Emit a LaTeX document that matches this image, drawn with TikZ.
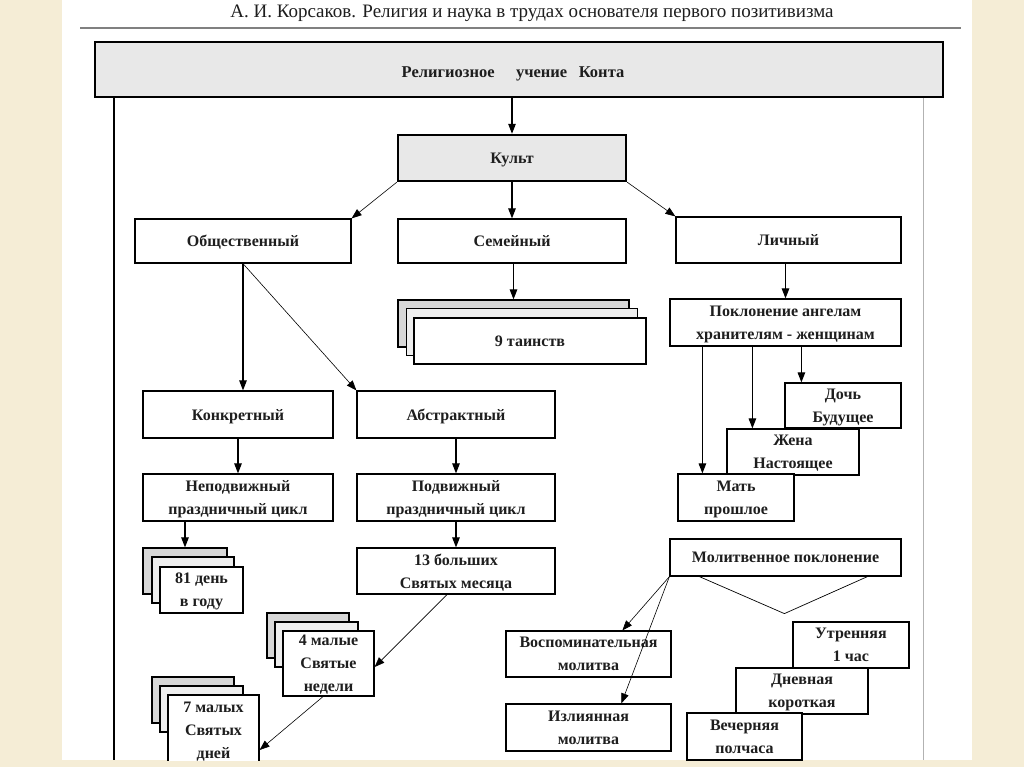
\documentclass[tikz,border=0pt]{standalone}
\usepackage{fontspec}
\setmainfont{Liberation Serif}
\usetikzlibrary{calc,arrows.meta}
\definecolor{parch}{RGB}{245,237,214}
\definecolor{boxgray}{RGB}{232,232,232}
\definecolor{backgray}{RGB}{215,215,215}
\definecolor{midgray}{RGB}{238,238,238}
\definecolor{txt}{RGB}{30,30,30}
\begin{document}
\begin{tikzpicture}[x=1pt,y=-1pt,
  box/.style={draw=black, line width=1.2pt, fill=white, align=center, inner sep=0pt,
    font=\fontsize{16}{23}\selectfont\bfseries, text=txt, text depth=0pt},
  backbox/.style={draw=black, line width=1.2pt, fill=backgray, inner sep=0pt},
  midbox/.style={draw=black, line width=1.2pt, fill=midgray, inner sep=0pt},
  arr/.style={-{Triangle[length=10pt,width=7.5pt]}, line width=1.1pt},
  tarr/.style={-{Triangle[length=10pt,width=7.5pt]}, line width=0.6pt}]
\useasboundingbox (0,0) rectangle (1024,767);
\fill[parch] (0,0) rectangle (1024,767);
\fill[white] (62,0) rectangle (972,760);
% title
\node[text=txt, inner sep=0pt] (title) at (532,13) {\fontsize{19}{20}\selectfont А. И. Корсаков. Религия и наука в трудах основателя первого позитивизма};
\draw[gray, line width=1.5pt] (80,28) -- (961,28);
% frame lines
\coordinate (lbot) at (114,760);
\coordinate (rbot) at (923,760);
% top box
\node[box, fill=boxgray, line width=1.8pt, minimum width=848pt, minimum height=55pt] (top) at (519,69.5) {};
\node[font=\fontsize{16.5}{22}\selectfont\bfseries, text=txt, inner sep=0pt, text depth=0pt] (toptext) at (513,72) {Религиозное\hspace{1.3em}учение\hspace{0.7em}Конта};
\draw[line width=1.3pt] (top.south -| lbot) -- (lbot);
\draw[gray!60, line width=0.8pt] (top.south -| rbot) -- (rbot);
% level 1
\node[box, fill=boxgray, line width=2.4pt, minimum width=228pt, minimum height=46pt] (kult) at (512,158) {Культ};
\node[box, minimum width=216pt, minimum height=44pt] (obsh) at (243,241) {Общественный};
\node[box, minimum width=228pt, minimum height=44pt] (sem) at (512,241) {Семейный};
\node[box, minimum width=225pt, minimum height=46pt] (lich) at (788.5,240) {Личный};
% 9 таинств
\node[backbox, minimum width=231pt, minimum height=47pt] (taB) at (513.5,323.5) {};
\node[midbox, minimum width=231pt, minimum height=47pt] (taM) at (522,332) {};
\node[box, minimum width=232pt, minimum height=46pt] (ta) at (530,341) {9 таинств};
% личный branch
\node[box, minimum width=231pt, minimum height=47pt] (poklon) at (785.5,322.5) {Поклонение ангелам\\хранителям - женщинам};
\node[box, minimum width=116pt, minimum height=45pt] (doch) at (843,405.5) {Дочь\\Будущее};
\node[box, minimum width=132pt, minimum height=46pt] (zhena) at (793,452) {Жена\\Настоящее};
\node[box, minimum width=116pt, minimum height=47pt] (mat) at (736,497.5) {Мать\\прошлое};
% общественный branch
\node[box, minimum width=190pt, minimum height=47pt] (konk) at (238,414.5) {Конкретный};
\node[box, minimum width=198pt, minimum height=47pt] (abstr) at (456,414.5) {Абстрактный};
\node[box, minimum width=190pt, minimum height=47pt] (nepod) at (238,497.5) {Неподвижный\\праздничный цикл};
\node[box, minimum width=198pt, minimum height=47pt] (pod) at (456,497.5) {Подвижный\\праздничный цикл};
% 81 день
\node[backbox, minimum width=84pt, minimum height=46pt] (dB) at (185,571) {};
\node[midbox, minimum width=82pt, minimum height=46pt] (dM) at (193,580) {};
\node[box, minimum width=83pt, minimum height=46pt] (d81) at (201.5,590) {81 день\\в году};
\node[box, minimum width=198pt, minimum height=46pt] (b13) at (456,571) {13 больших\\Святых месяца};
% 4 малые
\node[backbox, minimum width=82pt, minimum height=45pt] (m4B) at (308,635.5) {};
\node[midbox, minimum width=83pt, minimum height=45pt] (m4M) at (316.5,644.5) {};
\node[box, minimum width=91pt, minimum height=65pt] (m4) at (328.5,663.5) {4 малые\\Святые\\недели};
% 7 малых
\node[backbox, minimum width=82pt, minimum height=46pt] (m7B) at (193,700) {};
\node[midbox, minimum width=83pt, minimum height=46pt] (m7M) at (201.5,709) {};
\node[box, minimum width=91pt, minimum height=70pt] (m7) at (213.5,730) {7 малых\\Святых\\дней};
% молитвенное
\node[box, minimum width=231pt, minimum height=37pt] (molit) at (785.5,557.5) {Молитвенное поклонение};
\node[box, minimum width=165pt, minimum height=46pt] (vosp) at (588.5,654) {Воспоминательная\\молитва};
\node[box, minimum width=165pt, minimum height=47pt] (izl) at (588.5,727.5) {Излиянная\\молитва};
\node[box, minimum width=116pt, minimum height=46pt] (utr) at (851,645) {Утренняя\\1 час};
\node[box, minimum width=132pt, minimum height=46pt] (dnev) at (802,691) {Дневная\\короткая};
\node[box, minimum width=115pt, minimum height=47pt] (vech) at (744.5,736.5) {Вечерняя\\полчаса};
% arrows
\draw[arr] (kult.north |- top.south) -- (kult.north);
\draw[tarr] (kult.south west) -- (obsh.north east);
\draw[arr] (kult.south) -- (sem.north);
\draw[tarr] (kult.south east) -- (lich.north west);
\draw[arr] (taB.north |- sem.south) -- (taB.north);
\draw[arr] (obsh.south) -- (obsh.south |- konk.north);
\draw[tarr] (obsh.south) -- (abstr.north west);
\draw[arr] (konk.south) -- (nepod.north);
\draw[arr] (abstr.south) -- (pod.north);
\draw[arr] (dB.north |- nepod.south) -- (dB.north);
\draw[arr] (pod.south) -- (b13.north);
\draw[tarr] ([xshift=-9pt]b13.south) -- ([yshift=-3.5pt]m4.east);
\draw[tarr] ([xshift=-5.5pt]m4.south) -- ([yshift=-20pt]m7.east);
\draw[arr] (poklon.north |- lich.south) -- (poklon.north);
\draw[arr] ([xshift=25pt]mat.north west |- poklon.south) -- ([xshift=25pt]mat.north west);
\draw[arr] ([xshift=26pt]zhena.north west |- poklon.south) -- ([xshift=26pt]zhena.north west);
\draw[arr] ([xshift=17pt]doch.north west |- poklon.south) -- ([xshift=17pt]doch.north west);
\draw[tarr] (molit.south west) -- ([xshift=117pt]vosp.north west);
\draw[tarr] (molit.south west) -- ([xshift=116pt]izl.north west);
\coordinate (vtip) at ($(molit.south west)+(115,37)$);
\draw[line width=0.7pt] ([xshift=30pt]molit.south west) -- (vtip) -- ([xshift=198pt]molit.south west);
% bottom strip
\fill[parch] (0,761) rectangle (1024,767);
\end{tikzpicture}
\end{document}
